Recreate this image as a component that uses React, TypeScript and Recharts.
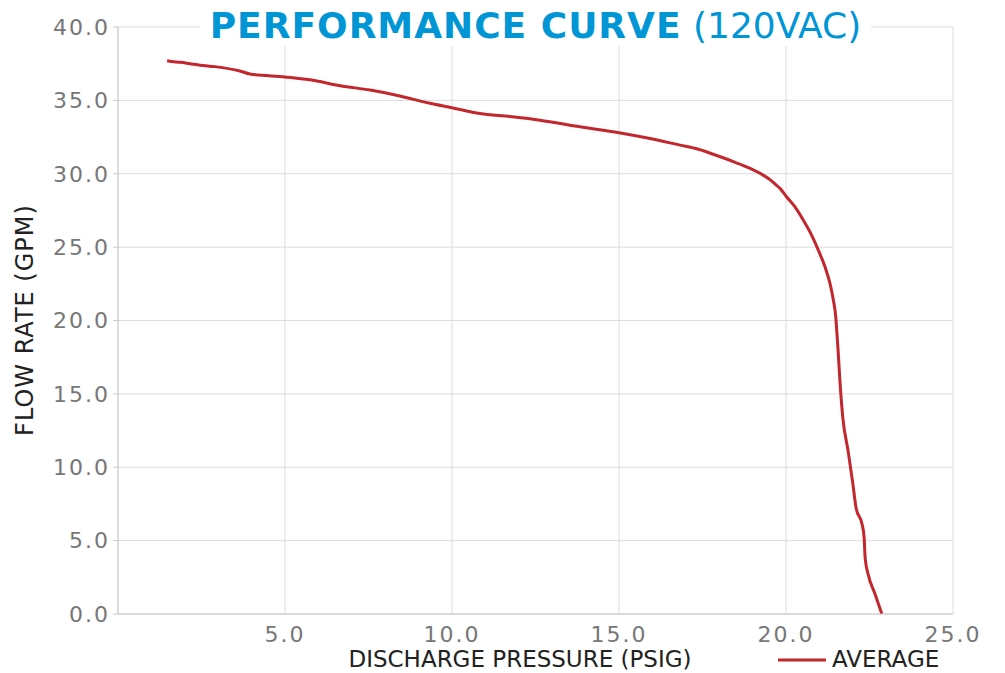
import React from 'react';
import { LineChart, Line, XAxis, YAxis, CartesianGrid, Legend } from 'recharts';

const pressurePsig = [1.47, 1.6, 1.86, 2.16, 2.46, 2.9, 3.65, 3.95, 5.0, 5.75, 6.65, 7.55, 8.44, 9.34, 10.0, 10.84, 11.74, 12.63, 13.83, 15.0, 15.93, 16.83, 17.33, 17.82, 18.32, 18.82, 19.32, 19.52, 19.72, 19.82, 20.02, 20.27, 20.52, 20.77, 20.97, 21.17, 21.32, 21.42, 21.49, 21.52, 21.56, 21.62, 21.7, 21.86, 22.0, 22.1, 22.28, 22.34, 22.37, 22.46, 22.66, 22.87];
const flowGpm = [37.7, 37.65, 37.6, 37.5, 37.4, 37.3, 37.0, 36.8, 36.6, 36.4, 36.0, 35.7, 35.3, 34.8, 34.5, 34.1, 33.9, 33.65, 33.2, 32.8, 32.4, 31.95, 31.7, 31.33, 30.92, 30.47, 29.9, 29.6, 29.2, 29.0, 28.42, 27.74, 26.83, 25.8, 24.78, 23.64, 22.5, 21.37, 20.23, 19.3, 17.95, 15.7, 13.4, 11.1, 8.9, 7.2, 6.1, 5.2, 3.8, 2.7, 1.4, 0.0];

const xTicks = [5, 10, 15, 20, 25];
const yTicks = [0, 5, 10, 15, 20, 25, 30, 35, 40];
const seriesName = 'AVERAGE';
const titleBold = 'PERFORMANCE CURVE';
const titleLight = '(120VAC)';
const xLabel = 'DISCHARGE PRESSURE (PSIG)';
const yLabel = 'FLOW RATE (GPM)';

const data = pressurePsig.map((p, i) => ({ pressure: p, flow: flowGpm[i] }));

const FONT = '"DejaVu Sans", sans-serif';
const RED = '#c1272d';
const BLUE = '#0096d6';

const renderLegend = (props: any) => {
  const { payload } = props;
  return (
    <div style={{ display: 'flex', alignItems: 'center' }}>
      {(payload || []).map((entry: any) => (
        <div key={entry.value} style={{ display: 'flex', alignItems: 'center' }}>
          <svg width={48} height={6} style={{ marginRight: 6 }}>
            <line x1={0} y1={3} x2={48} y2={3} stroke={entry.color} strokeWidth={3} />
          </svg>
          <span style={{ fontFamily: FONT, fontSize: 23, color: '#222', lineHeight: '23px' }}>{entry.value}</span>
        </div>
      ))}
    </div>
  );
};

export default function App() {
  return (
    <div style={{ position: 'relative', width: 997, height: 665, fontFamily: FONT }}>
      <LineChart
        width={997}
        height={665}
        data={data}
        margin={{ top: 19, right: 52, bottom: 4, left: 0 }}
      >
        <CartesianGrid stroke="#dddddd" strokeWidth={1} />
        <XAxis
          dataKey="pressure"
          type="number"
          domain={[0, 25]}
          ticks={xTicks}
          tickFormatter={(v: number) => v.toFixed(1)}
          stroke="#c8c8c8"
          tickLine={false}
          tickSize={0}
          tickMargin={12}
          tick={{ fill: '#777', fontSize: 22, fontFamily: FONT, letterSpacing: 2 }}
          height={30}
        />
        <YAxis
          dataKey="flow"
          type="number"
          domain={[0, 40]}
          ticks={yTicks}
          tickFormatter={(v: number) => v.toFixed(1)}
          stroke="#c8c8c8"
          tickSize={5}
          tickMargin={3}
          tick={{ fill: '#777', fontSize: 22, fontFamily: FONT, letterSpacing: 2 }}
          width={110}
        />
        <Legend
          content={renderLegend}
          wrapperStyle={{ position: 'absolute', left: 770, top: 640, width: 220, height: 25 }}
        />
        <Line
          type="monotoneX"
          dataKey="flow"
          name={seriesName}
          stroke={RED}
          strokeWidth={3}
          dot={false}
          isAnimationActive={false}
        />
      </LineChart>
      <div style={{ position: 'absolute', left: 110, width: 835, top: 0, textAlign: 'center', lineHeight: '36px' }}>
        <span style={{ background: '#fff', padding: '0 10px', color: BLUE, fontSize: 36 }}>
          <span style={{ fontWeight: 'bold', letterSpacing: 1 }}>{titleBold}</span> <span>{titleLight}</span>
        </span>
      </div>
      <div style={{ position: 'absolute', left: 312, width: 400, top: 640, textAlign: 'center', fontSize: 23, lineHeight: '23px', color: '#222' }}>
        {xLabel}
      </div>
      <div style={{ position: 'absolute', left: 17 - 150, top: 312 - 15, width: 300, height: 30, textAlign: 'center', fontSize: 24, lineHeight: '30px', color: '#222', transform: 'rotate(-90deg)', letterSpacing: 1 }}>
        {yLabel}
      </div>
    </div>
  );
}
